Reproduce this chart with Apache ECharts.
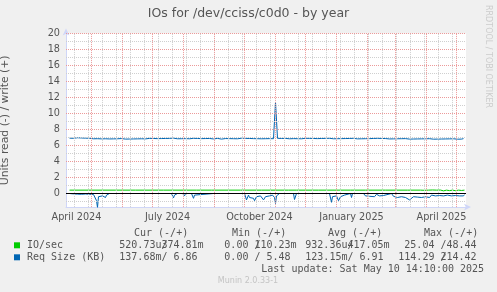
<!DOCTYPE html>
<html><head><meta charset="utf-8">
<script src="https://cdn.jsdelivr.net/npm/echarts@6/dist/echarts.min.js"></script>
<style>html,body{margin:0;padding:0;background:#f0f0f0}#c{width:497px;height:292px}</style>
</head><body><div id="c"></div>
<script>
const DAY = 86400000;
const rangeStart = '2024-04-05T12:00:00Z';
const rangeEnd = '2025-05-10T12:00:00Z';
const titleText = 'IOs for /dev/cciss/c0d0 - by year';
const yAxisTitle = 'Units read (-) / write (+)';
const monthGrid = ['2024-05-01','2024-06-01','2024-07-01','2024-08-01','2024-09-01','2024-10-01','2024-11-01','2024-12-01','2025-01-01','2025-02-01','2025-03-01','2025-04-01','2025-05-01'];
const weekGrid = ['2024-04-14','2024-04-28','2024-05-12','2024-05-26','2024-06-09','2024-06-23','2024-07-07','2024-07-21','2024-08-04','2024-08-18','2024-09-01','2024-09-15','2024-09-29','2024-10-13','2024-10-27','2024-11-10','2024-11-24','2024-12-08','2024-12-22','2025-01-05','2025-01-19','2025-02-02','2025-02-16','2025-03-02','2025-03-16','2025-03-30','2025-04-13','2025-04-27'];
const tickLabels = ['April 2024','July 2024','October 2024','January 2025','April 2025'];
const tickLabelMonths = ['2024-04-01','2024-07-01','2024-10-01','2025-01-01','2025-04-01'];
const yTickLabels = [0,2,4,6,8,10,12,14,16,18,20];
const yMinorGrid = [-1,1,3,5,7,9,11,13,15,17,19];
const yMin = -1.7, yMax = 20;

// Req Size (KB) write (+), one value every 2 days from 2024-04-09
const reqWriteFirst = '2024-04-09';
const reqWriteStepDays = 2;
const reqWrite = [
6.92,6.95,6.90,6.93,6.97,6.91,6.94,6.90,6.92,6.88,
6.90,6.86,6.84,6.82,6.85,6.80,6.83,6.81,6.84,6.80,
6.82,6.86,6.83,6.80,6.84,6.81,6.87,6.83,6.80,6.84,
6.81,6.85,6.82,6.86,6.83,6.88,6.84,6.87,6.83,6.86,
6.89,6.85,6.88,6.91,6.86,6.90,6.87,6.84,6.88,6.85,
6.89,6.86,6.92,6.87,6.84,6.88,6.85,6.90,6.86,6.89,
6.84,6.87,6.90,6.85,6.88,6.92,6.86,6.83,6.87,6.84,
6.88,6.85,6.82,6.86,6.89,6.84,6.80,6.84,6.87,6.83,
6.86,6.90,6.85,6.88,6.84,6.87,6.91,6.86,6.89,6.85,
6.88,6.84,6.86,6.80,6.85,6.88,6.84,6.87,6.85,6.89,
6.86,6.88,6.85,11.40,6.90,6.86,6.88,6.85,6.89,6.87,
6.84,6.88,6.86,6.90,6.85,6.88,6.84,6.87,6.90,6.86,
6.89,6.85,6.88,6.91,6.86,6.84,6.88,6.85,6.89,6.86,
6.90,6.87,6.84,6.88,6.85,6.89,6.86,6.92,6.87,6.84,
6.88,6.85,6.90,6.86,6.83,6.87,6.84,6.88,6.85,6.89,
6.86,6.83,6.88,6.85,6.90,6.86,6.88,6.84,6.87,6.85,
6.82,6.86,6.83,6.87,6.84,6.81,6.85,6.82,6.86,6.83,
6.80,6.84,6.81,6.85,6.82,6.86,6.83,6.80,6.84,6.81,
6.85,6.82,6.79,6.83,6.80,6.84,6.81,6.78,6.82,6.80,
6.83,6.80,6.84,6.81,6.79,6.83,6.80,6.86
];

// Req Size (KB) read (-)
const reqRead = [
['2024-04-09',0],['2024-04-11',-0.12],['2024-04-13',-0.05],['2024-04-15',-0.18],['2024-04-17',-0.08],['2024-04-19',-0.2],['2024-04-21',-0.1],['2024-04-23',-0.15],['2024-04-25',-0.06],['2024-04-27',-0.22],['2024-04-29',-0.1],['2024-05-01',-0.18],['2024-05-03',-0.12],['2024-05-05',-0.25],['2024-05-06',-0.9],['2024-05-07',-1.75],['2024-05-08',-0.4],['2024-05-10',-0.15],['2024-05-12',-0.3],['2024-05-13',-0.12],['2024-05-15',-0.5],['2024-05-16',-0.2],['2024-05-18',-0.3],['2024-05-19',0],
['2024-07-20',0],['2024-07-22',-0.55],['2024-07-23',-0.2],['2024-07-24',-0.45],['2024-07-26',0],
['2024-07-31',0],['2024-08-02',-0.3],['2024-08-03',0],
['2024-08-09',0],['2024-08-11',-0.6],['2024-08-12',-0.2],['2024-08-13',0],
['2024-08-31',0],['2024-09-01',-0.2],['2024-09-02',0],
['2024-10-01',0],['2024-10-03',-0.8],['2024-10-05',-0.2],['2024-10-06',-0.5],['2024-10-08',-0.3],['2024-10-10',-0.6],['2024-10-11',-0.9],['2024-10-13',-0.4],['2024-10-15',-0.6],['2024-10-17',-0.3],['2024-10-19',-0.5],['2024-10-20',-0.8],['2024-10-22',-0.4],['2024-10-24',-0.55],['2024-10-26',-0.3],['2024-10-27',-0.45],['2024-10-29',-0.2],['2024-10-31',-0.5],['2024-11-01',-1.25],['2024-11-02',-0.3],['2024-11-04',-0.2],['2024-11-05',0],
['2024-11-19',0],['2024-11-20',-0.75],['2024-11-21',-0.5],['2024-11-22',0],
['2024-11-30',0],['2024-12-01',-0.15],['2024-12-02',0],
['2024-12-25',0],['2024-12-27',-1.1],['2024-12-28',-0.4],['2024-12-30',-0.6],['2025-01-01',-0.3],['2025-01-03',-0.9],['2025-01-05',-0.4],['2025-01-07',-0.5],['2025-01-09',-0.2],['2025-01-10',0],
['2025-01-15',0],['2025-01-16',-0.5],['2025-01-17',0],
['2025-01-28',0],['2025-01-30',-0.3],['2025-02-01',-0.1],['2025-02-03',-0.35],['2025-02-05',-0.15],['2025-02-08',-0.4],['2025-02-10',-0.1],['2025-02-13',-0.3],['2025-02-15',-0.15],['2025-02-17',-0.25],['2025-02-19',0],
['2025-02-25',0],['2025-02-27',-0.35],['2025-03-01',-0.2],['2025-03-03',-0.5],['2025-03-05',-0.25],['2025-03-07',-0.4],['2025-03-09',-0.2],['2025-03-11',-0.5],['2025-03-13',-0.75],['2025-03-15',-0.8],['2025-03-17',-0.7],['2025-03-19',-0.4],['2025-03-21',-0.2],['2025-03-23',-0.45],['2025-03-25',-0.3],['2025-03-27',-0.5],['2025-03-29',-0.25],['2025-03-31',-0.4],['2025-04-02',-0.3],['2025-04-04',-0.5],['2025-04-06',-0.2],['2025-04-08',-0.4],['2025-04-10',-0.3],['2025-04-12',-0.45],['2025-04-14',-0.25],['2025-04-16',-0.5],['2025-04-18',-0.3],['2025-04-20',-0.4],['2025-04-22',-0.2],['2025-04-24',-0.45],['2025-04-26',-0.3],['2025-04-28',-0.5],['2025-04-30',-0.25],['2025-05-02',-0.4],['2025-05-04',-0.3],['2025-05-06',-0.45],['2025-05-08',-0.3],['2025-05-09',-0.14]
];

// IO/sec write (+)
const ioWrite = [
['2024-04-09',0.42],['2024-05-25',0.42],['2024-05-26',0.5],['2024-05-27',0.42],['2024-06-14',0.42],['2024-06-15',0.52],['2024-06-16',0.42],
['2024-07-07',0.42],['2024-07-08',0.5],['2024-07-09',0.42],['2024-07-12',0.42],['2024-07-13',0.5],['2024-07-14',0.42],
['2024-08-14',0.42],['2024-08-15',0.52],['2024-08-16',0.42],['2024-08-29',0.42],['2024-08-30',0.52],['2024-08-31',0.42],
['2024-09-15',0.42],['2024-09-16',0.52],['2024-09-17',0.42],['2024-09-27',0.42],['2024-09-28',0.52],['2024-09-29',0.42],
['2024-10-13',0.42],['2024-10-14',0.52],['2024-10-15',0.42],['2024-10-18',0.42],['2024-10-19',0.5],['2024-10-20',0.42],
['2024-11-14',0.42],['2024-11-15',0.52],['2024-11-16',0.42],['2024-11-22',0.42],['2024-11-23',0.52],['2024-11-24',0.42],
['2024-12-14',0.42],['2024-12-15',0.52],['2024-12-16',0.42],['2024-12-23',0.42],['2024-12-24',0.52],['2024-12-25',0.42],
['2025-01-15',0.42],['2025-01-16',0.52],['2025-01-17',0.42],['2025-01-30',0.42],['2025-01-31',0.52],['2025-02-01',0.42],
['2025-02-19',0.42],['2025-02-20',0.52],['2025-02-21',0.42],['2025-03-02',0.42],['2025-03-03',0.5],['2025-03-04',0.42],
['2025-03-13',0.42],['2025-03-14',0.52],['2025-03-15',0.42],['2025-03-26',0.42],
['2025-03-28',0.33],['2025-03-30',0.4],['2025-04-01',0.3],['2025-04-03',0.42],['2025-04-05',0.35],['2025-04-07',0.44],['2025-04-09',0.34],['2025-04-11',0.42],['2025-04-13',0.36],['2025-04-15',0.43],['2025-04-18',0.33],['2025-04-21',0.42],['2025-04-24',0.36],['2025-04-27',0.42],['2025-04-30',0.35],['2025-05-03',0.42],['2025-05-06',0.38],['2025-05-09',0.42]
];

// legend table texts
const legendHeaders = ['Cur (-/+)','Min (-/+)','Avg (-/+)','Max (-/+)'];
const legendNames = ['IO/sec','Req Size (KB)'];
const legendColors = ['#00cc00','#0066b3'];
const legendNeg = [['520.73u','  0.00 ','932.36u',' 25.04 '],['137.68m','  0.00 ','123.15m','114.29 ']];
const legendPos = [['374.81m','110.23m','417.05m',' 48.44'],['  6.86','  5.48','  6.91','214.42']];
const lastUpdate = 'Last update: Sat May 10 14:10:00 2025';
const muninVersion = 'Munin 2.0.33-1';
const rrdCredit = 'RRDTOOL / TOBI OETIKER';

const ms = s => Date.parse(s.length === 10 ? s + 'T00:00:00Z' : s);
const xMin = ms(rangeStart), xMax = ms(rangeEnd);
const labelPos = tickLabelMonths.map(s => ms(s) + 15 * DAY);
const reqWriteData = reqWrite.map((v, i) => [ms(reqWriteFirst) + i * reqWriteStepDays * DAY, v]);
const toPts = arr => arr.map(p => [ms(p[0]), p[1]]);

const FONT = 'DejaVu Sans';
const TXT = '#555';
const AXIS = '#CFD6F8';
const MAJOR = '#ec9a9a', MINOR = '#cfcfcf';

const chart = echarts.init(document.getElementById('c'), null, {renderer: 'canvas'});

const graphics = [
  {type:'text', x:248.5, y:13.5, style:{text:titleText, font:'12.5px "DejaVu Sans"', fill:TXT, align:'center', verticalAlign:'middle'}},
  {type:'text', x:488, y:5, rotation:-Math.PI/2, style:{text:rrdCredit, font:'8px "DejaVu Sans"', fill:'#cccccc', align:'left', verticalAlign:'middle'}},
  {type:'text', x:248, y:281, style:{text:muninVersion, font:'8px "DejaVu Sans"', fill:'#c4c4c4', align:'center', verticalAlign:'middle'}},
  {type:'text', x:261.3, y:269.7, style:{text:lastUpdate, font:'10px "DejaVu Sans Mono"', fill:TXT, align:'left', verticalAlign:'middle'}}
];
const headX = [134, 232, 328, 424];
const colX = [119.3, 212.3, 305.3, 398.3];
legendHeaders.forEach((h, i) => graphics.push({type:'text', x:headX[i], y:233.5, style:{text:h, font:'10px "DejaVu Sans Mono"', fill:TXT, align:'left', verticalAlign:'middle'}}));
legendNames.forEach((n, r) => {
  const y = 245.3 + r * 12;
  graphics.push({type:'rect', shape:{x:14, y:y - 3, width:6, height:6}, style:{fill:legendColors[r]}});
  graphics.push({type:'text', x:27, y:y, style:{text:n, font:'10px "DejaVu Sans Mono"', fill:TXT, align:'left', verticalAlign:'middle'}});
  colX.forEach((cx, c) => {
    graphics.push({type:'text', x:cx, y:y, style:{text:legendNeg[r][c], font:'10px "DejaVu Sans Mono"', fill:TXT, align:'left', verticalAlign:'middle'}});
    graphics.push({type:'text', x:cx + 42.1, y:y, style:{text:'/', font:'10px "DejaVu Sans Mono"', fill:TXT, align:'left', verticalAlign:'middle'}});
    graphics.push({type:'text', x:cx + 42.1, y:y, style:{text:legendPos[r][c], font:'10px "DejaVu Sans Mono"', fill:TXT, align:'left', verticalAlign:'middle'}});
  });
});

const gridSeries = (color, xs, ys, z) => ({
  type:'line', data:[[xMin, yMax]], symbol:'none', lineStyle:{opacity:0}, silent:true, z:z,
  markLine:{silent:true, symbol:'none', label:{show:false}, emphasis:{disabled:true}, animation:false,
    lineStyle:{color:color, width:1, type:[1,1], opacity:1},
    data:[...xs.map(d => ({xAxis: ms(d)})), ...ys.map(v => ({yAxis: v}))]}
});

chart.setOption({
  animation: false,
  backgroundColor: '#f0f0f0',
  grid: {left:66, right:31, top:33.5, height:173.6, backgroundColor:'#ffffff', show:true, borderWidth:0, containLabel:false, outerBoundsMode:'none'},
  xAxis: {type:'value', min:xMin, max:xMax, position:'bottom',
     axisLine:{show:true, onZero:false, symbol:['none','arrow'], symbolSize:[5,7], symbolOffset:[0,5], lineStyle:{color:AXIS, width:1}},
     axisTick:{show:false}, splitLine:{show:false},
     axisLabel:{customValues: labelPos, margin:5, color:TXT, fontSize:9.7, fontFamily:FONT,
       formatter: v => { let b = 0; labelPos.forEach((p, i) => { if (Math.abs(p - v) < Math.abs(labelPos[b] - v)) b = i; }); return tickLabels[b]; }}},
  yAxis: {type:'value', min:yMin, max:yMax, position:'left',
     axisLine:{show:true, onZero:false, symbol:['none','arrow'], symbolSize:[5,7], symbolOffset:[0,5], lineStyle:{color:AXIS, width:1}},
     axisTick:{show:false}, splitLine:{show:false},
     axisLabel:{customValues: yTickLabels, margin:6, color:TXT, fontSize:9.7, fontFamily:FONT},
     name: yAxisTitle, nameLocation:'middle', nameGap:55, nameRotate:90,
     nameTextStyle:{color:TXT, fontSize:10.8, fontFamily:FONT}},
  series: [
    gridSeries(MINOR, weekGrid, yMinorGrid, 1),
    gridSeries(MAJOR, monthGrid, yTickLabels, 2),
    {type:'line', data: toPts(ioWrite), symbol:'none', lineStyle:{color:'#00cc00', width:1}, z:3},
    {type:'line', data: toPts(reqRead), symbol:'none', lineStyle:{color:'#0066b3', width:1}, z:4},
    {type:'line', data: reqWriteData, symbol:'none', lineStyle:{color:'#0066b3', width:1}, z:4},
    {type:'line', data:[[xMin, 0]], symbol:'none', lineStyle:{opacity:0}, silent:true, z:6,
     markLine:{silent:true, symbol:'none', label:{show:false}, emphasis:{disabled:true}, lineStyle:{color:'#000000', width:1, type:'solid'}, data:[{yAxis:0}]}}
  ],
  graphic: graphics
});
</script></body></html>
